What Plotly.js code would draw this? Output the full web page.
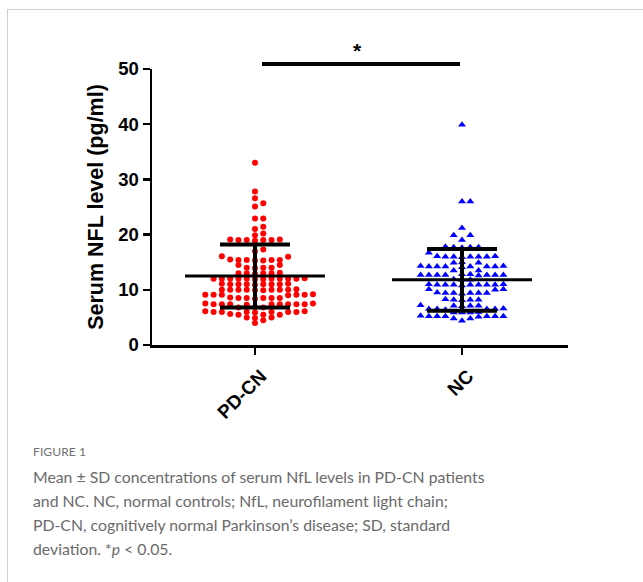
<!DOCTYPE html>
<html>
<head>
<meta charset="utf-8">
<script src="https://cdn.plot.ly/plotly-3.0.1.min.js"></script>
<style>
  html, body { margin: 0; padding: 0; background: #fff; overflow: hidden; width: 643px; height: 582px; }
  #frame { position: absolute; left: 7px; top: 9px; width: 760px; height: 760px; border: 1.5px solid #d0d0d0; }
  #chart { position: absolute; left: 0; top: 0; width: 643px; height: 582px; }
  #figlabel { position: absolute; left: 33px; top: 445px; font-family: Lato, "Open Sans", sans-serif; font-size: 12px; line-height: 14px; color: #6f6f6f; letter-spacing: 0.1px; }
  #caption { position: absolute; left: 33px; top: 465px; font-family: Lato, "Open Sans", sans-serif; font-size: 15.8px; line-height: 24px; color: #6a6a6a; white-space: nowrap; }
</style>
</head>
<body>
<div id="frame"></div>
<div id="chart"></div>
<div id="figlabel">FIGURE 1</div>
<div id="caption">Mean &plusmn; SD concentrations of serum NfL levels in PD-CN patients<br>and NC. NC, normal controls; NfL, neurofilament light chain;<br>PD-CN, cognitively normal Parkinson&rsquo;s disease; SD, standard<br>deviation. *<i>p</i> &lt; 0.05.</div>
<script>
// ---- data ----
var groups = ["PD-CN", "NC"];
var pdcnValues = [
  33.0, 27.8, 26.6, 25.7, 25.1, 22.9, 22.9, 21.4, 21.0, 20.2, 19.9,
  19.0, 19.0, 19.1, 18.9, 19.0, 19.1, 19.0,
  17.3, 17.0, 16.0, 16.1,
  15.4, 15.4, 15.3, 15.5, 15.4, 15.4, 15.3,
  14.5, 14.5,
  14.0, 14.0, 13.9, 14.0,
  13.0, 13.0, 13.1, 13.0, 12.9, 13.0,
  12.0, 12.0, 12.0, 11.9, 12.0, 12.0, 12.1, 12.0, 12.0, 11.9, 12.0, 12.0,
  11.0, 11.0, 11.1, 11.0, 10.9, 11.0, 11.0, 11.0, 11.1,
  10.0, 10.0, 10.0, 9.9, 10.0, 10.1, 10.0, 10.0, 9.9, 10.0,
  9.1, 9.1, 9.0, 9.1, 9.2, 9.1, 9.1,
  8.5, 8.5, 8.4, 8.5, 8.5, 8.6, 8.5,
  7.4, 7.4, 7.5, 7.4, 7.4, 7.3, 7.4, 7.4, 7.5, 7.4, 7.4,
  6.8, 6.8, 6.9,
  6.0, 6.0, 6.1, 6.0, 5.9, 6.0, 6.0, 6.0, 6.1,
  5.5, 5.5, 5.6, 5.5,
  5.0, 5.0, 4.9,
  4.5, 4.0
];
var ncValues = [
  39.9, 26.0, 26.0, 21.2, 19.9, 19.9, 19.0,
  17.7, 17.7, 17.8, 17.7, 17.6,
  16.7,
  16.0, 16.0, 16.1, 16.0, 15.9, 16.0, 16.0, 16.1,
  14.9, 14.9, 15.0,
  14.2, 14.2, 14.3, 14.2, 14.2, 14.1, 14.2, 14.2, 14.3,
  13.5, 13.5,
  12.7, 12.7, 12.8, 12.7, 12.7, 12.6, 12.7, 12.7, 12.8, 12.7,
  11.8, 11.8, 11.9,
  10.9, 10.9, 11.0, 10.9, 10.9, 10.8, 10.9, 10.9, 11.0, 10.9,
  10.1, 10.1, 10.0,
  9.4, 9.4, 9.5, 9.4, 9.4, 9.3, 9.4,
  8.2, 8.2, 8.3, 8.2, 8.1,
  7.1, 7.1, 7.2, 7.1, 7.0,
  6.5, 6.5, 6.5, 6.6, 6.5, 6.4,
  5.9, 5.9, 6.0, 5.9,
  5.2, 5.2, 5.3, 5.2, 5.2, 5.1, 5.2, 5.2,
  4.8, 4.8, 4.4
];
var means = [12.5, 11.8];
var sds = [5.7, 5.6];
var yTicks = [0, 10, 20, 30, 40, 50];
var yTitle = "Serum NFL level (pg/ml)";
var sigLabel = "*";

// ---- scatter layout (grid beeswarm, computed from the values) ----
var colStep = 0.04;   // column spacing in x units
var minGap = 0.9;     // min vertical separation within one column (y units)
function swarm(values, center) {
  var idx = values.map(function (v, i) { return i; });
  idx.sort(function (a, b) { return values[a] - values[b]; });
  var cols = {};
  var xs = new Array(values.length);
  idx.forEach(function (i) {
    var v = values[i];
    for (var k = 0; k < 60; k++) {
      var off = (k % 2 === 1) ? (k + 1) / 2 : -k / 2;
      var list = cols[off] || [];
      var ok = list.every(function (u) { return Math.abs(u - v) >= minGap; });
      if (ok) { list.push(v); cols[off] = list; xs[i] = center + off * colStep; break; }
    }
  });
  return xs;
}

var FAM = "Liberation Sans, Arial, sans-serif";
var yTickFont = { family: FAM, size: 18.5, color: "#000", weight: 700 };
var xTickFont = { family: FAM, size: 19, color: "#000", weight: 700 };

var traces = [
  { type: "scatter", mode: "markers", x: swarm(pdcnValues, 0), y: pdcnValues,
    marker: { symbol: "circle", size: 6, color: "#ff0000" }, hoverinfo: "y", showlegend: false, cliponaxis: false },
  { type: "scatter", mode: "markers", x: swarm(ncValues, 1), y: ncValues,
    marker: { symbol: "triangle-up", size: 7, color: "#0000ff" }, hoverinfo: "y", showlegend: false, cliponaxis: false }
];
var meanHalf = 0.338;
means.forEach(function (m, i) {
  traces.push({ type: "scatter", mode: "lines", x: [i - meanHalf, i + meanHalf], y: [m, m],
    line: { color: "#000", width: 3 }, hoverinfo: "skip", showlegend: false });
  traces.push({ type: "scatter", mode: "markers", x: [i], y: [m],
    marker: { size: 1, color: "rgba(0,0,0,0)" },
    error_y: { type: "data", array: [sds[i]], visible: true, color: "#000", thickness: 4, width: 35 },
    hoverinfo: "skip", showlegend: false });
});

// pixel helpers for annotation placement
var L = 152, R = 568, T = 69, B = 345;
function pxX(x) { return (x - L) / (R - L); }
function pxY(y) { return (B - y) / (B - T); }

var layout = {
  width: 643, height: 582,
  margin: { l: L, r: 643 - R, t: T, b: 582 - B, pad: 0 },
  paper_bgcolor: "rgba(0,0,0,0)", plot_bgcolor: "rgba(0,0,0,0)",
  xaxis: {
    range: [-(255 - L) / 207, 1 + (R - 462) / 207],
    tickvals: [0, 1], ticktext: groups, tickangle: -45,
    showline: true, linecolor: "#000", linewidth: 2.5,
    ticks: "outside", ticklen: 7, tickwidth: 2.5, tickcolor: "#000",
    ticklabelshift: 6, ticklabelstandoff: 3,
    showgrid: false, zeroline: false, tickfont: xTickFont, fixedrange: true
  },
  yaxis: {
    range: [0, 50], tickvals: yTicks, ticktext: yTicks.map(String),
    showline: true, linecolor: "#000", linewidth: 2.5,
    ticks: "outside", ticklen: 7, tickwidth: 2.5, tickcolor: "#000",
    showgrid: false, zeroline: false, tickfont: yTickFont,
    title: { text: yTitle, font: { family: FAM, size: 21.5, color: "#000", weight: 700 }, standoff: 9 },
    fixedrange: true
  },
  shapes: [
    { type: "line", xref: "paper", yref: "paper", x0: pxX(262), x1: pxX(460), y0: pxY(64), y1: pxY(64),
      line: { color: "#000", width: 4 } }
  ],
  annotations: [
    { xref: "paper", yref: "paper", x: pxX(357), y: pxY(51), text: sigLabel, showarrow: false,
      xanchor: "center", yanchor: "middle",
      font: { family: FAM, size: 21, color: "#000", weight: 700 } }
  ]
};

Plotly.newPlot("chart", traces, layout, { displayModeBar: false, staticPlot: true });
</script>
</body>
</html>
